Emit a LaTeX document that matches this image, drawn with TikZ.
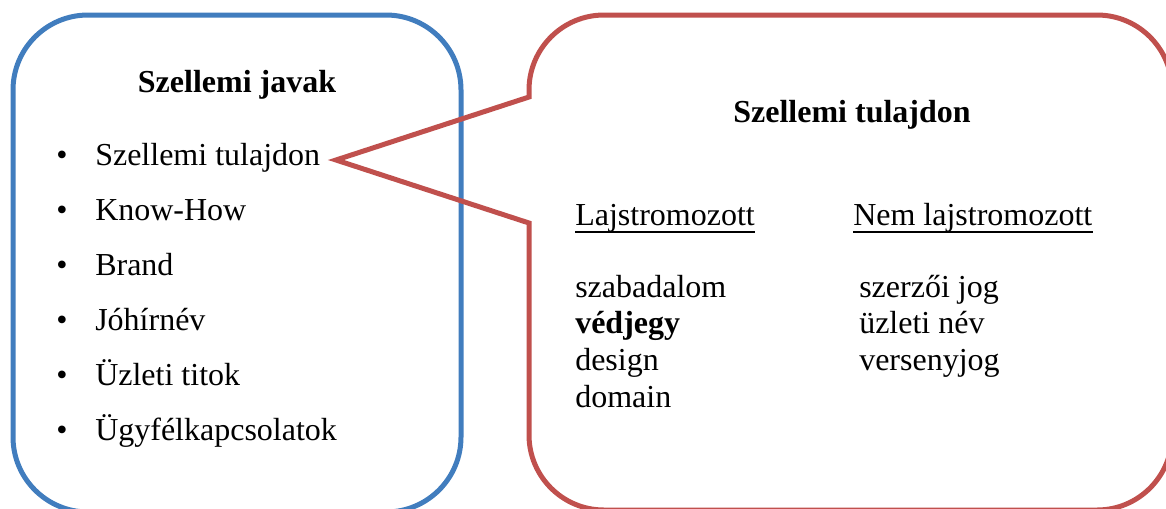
\documentclass[tikz,border=0pt]{standalone}
\usepackage{fontspec}
\setmainfont{Liberation Serif}
\definecolor{boxblue}{RGB}{65,125,190}
\definecolor{boxred}{RGB}{192,80,77}
\begin{document}
\begin{tikzpicture}[x=0.75pt,y=-0.75pt,
  txt/.style={inner sep=0pt, anchor=base west, font=\fontsize{24}{28}\selectfont},
  ctr/.style={inner sep=0pt, anchor=base, font=\fontsize{24}{28}\selectfont\bfseries},
  dot/.style={inner sep=0pt, anchor=base, font=\fontsize{24}{28}\selectfont},
  frame/.style={line width=3.75pt},
  uline/.style={line width=1.5pt}]
\useasboundingbox (0,0) rectangle (1166,508);
\begin{scope}
  \clip (0,0) rectangle (1166,508);
  % left rounded box
  \draw[frame, boxblue, rounded corners=56.25pt] (13,15) rectangle (461,512);
  % callout box with its pointer
  \coordinate (tip) at (336,160);
  \draw[frame, boxred, line join=miter]
    (529,223) -- (529,435) arc[start angle=180, end angle=270, radius=56.25pt]
    -- (1097,510) arc[start angle=270, end angle=360, radius=56.25pt]
    -- (1172,90) arc[start angle=0, end angle=90, radius=56.25pt]
    -- (604,15) arc[start angle=90, end angle=180, radius=56.25pt]
    -- (529,97) -- (tip) -- cycle;
\end{scope}

% left box contents
\node[ctr] (javak) at (237,92) {Szellemi javak};
\foreach \y/\t/\n in {165/Szellemi tulajdon/a, 220/Know-How/b, 275/Brand/c,
                      330/Jóhírnév/d, 385/Üzleti titok/e, 440/Ügyfélkapcsolatok/f} {
  \node[dot] (dot\n) at (62,\y) {•};
  \node[txt] (item\n) at (95,\y) {\t};
}

% callout contents
\node[ctr] (tulajdon) at (852,122) {Szellemi tulajdon};
\node[txt] (lajs) at (575,225) {Lajstromozott};
\node[txt] (nemlajs) at (853,225) {Nem lajstromozott};
\draw[uline] ([yshift=-5.5pt]lajs.base west) -- ([yshift=-5.5pt]lajs.base east);
\draw[uline] ([yshift=-5.5pt]nemlajs.base west) -- ([yshift=-5.5pt]nemlajs.base east);

\node[txt] (l1) at (575,297) {szabadalom};
\node[txt] (l2) at (575,333) {\bfseries védjegy};
\node[txt] (l3) at (575,370) {design};
\node[txt] (l4) at (575,407) {domain};
\node[txt] (r1) at (859,297) {szerzői jog};
\node[txt] (r2) at (859,333) {üzleti név};
\node[txt] (r3) at (859,370) {versenyjog};
\end{tikzpicture}
\end{document}
